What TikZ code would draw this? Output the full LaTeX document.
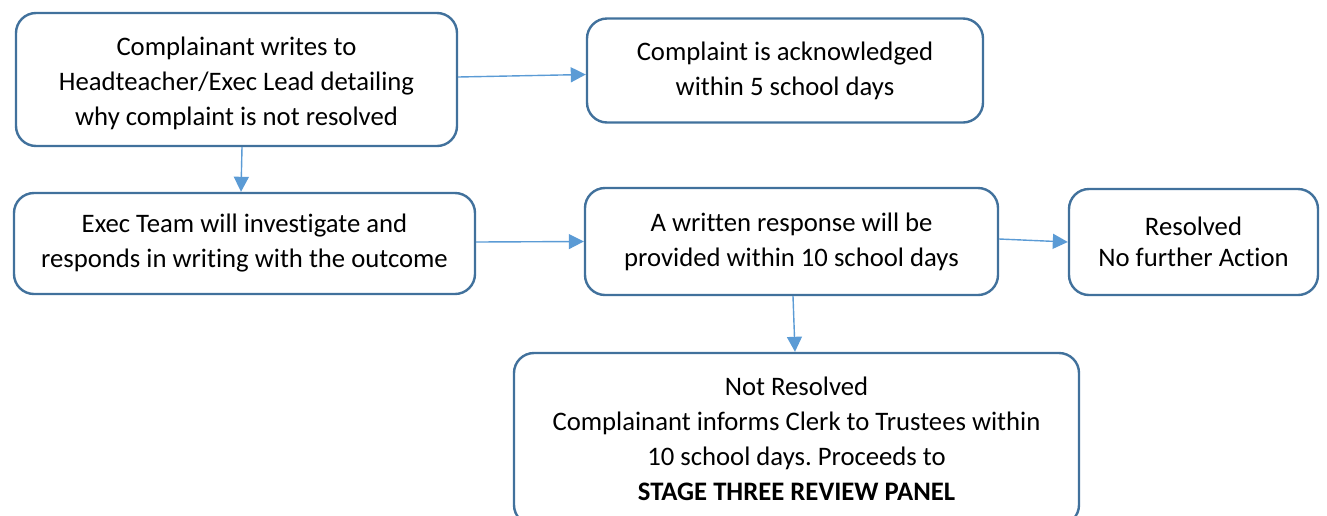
\documentclass[tikz,border=0pt]{standalone}
\usepackage{fontspec}
\setmainfont{Carlito}[Ligatures=NoCommon]
\usetikzlibrary{arrows.meta}
\frenchspacing
\definecolor{boxline}{HTML}{41719C}
\definecolor{arrowc}{HTML}{5B9BD5}
\tikzset{
  flowtext/.style={align=center, font=\fontsize{26.7}{35}\selectfont, inner sep=0pt},
  flowbox/.style={flowtext, draw=boxline, line width=2.4pt, rounded corners=20pt},
  conn/.style={draw=arrowc, line width=1.4pt, -{Triangle[length=15pt,width=15pt]}}
}
\begin{document}
\begin{tikzpicture}[x=1pt,y=-1pt]
\useasboundingbox (0,0) rectangle (1327,515);
\clip (0,0) rectangle (1327,515);
\node[flowbox, minimum width=441pt, minimum height=133pt] (b1) at (236.5,79.5) {};
\node[flowtext] (b1text) at (236.5,83.5)
  {Complainant writes to\\Headteacher/Exec Lead detailing\\why complaint is not resolved};
\node[flowbox, minimum width=396pt, minimum height=104pt] (b2) at (785,70.5)
  {Complaint is acknowledged\\within 5 school days};
\node[flowbox, minimum width=461pt, minimum height=101pt] (b3) at (244.5,243.5)
  {Exec Team will investigate and\\responds in writing with the outcome};
\node[flowbox, minimum width=413pt, minimum height=107pt] (b4) at (791.5,241.5)
  {A written response will be\\provided within 10 school days};
\node[flowbox, minimum width=249pt, minimum height=106pt, font=\fontsize{26.7}{31}\selectfont] (b5) at (1193.5,242)
  {Resolved\\No further Action};
\node[flowbox, minimum width=565pt, minimum height=172pt] (b6) at (796.5,439)
  {Not Resolved\\Complainant informs Clerk to Trustees within\\10 school days. Proceeds to\\\textbf{STAGE THREE REVIEW PANEL}};
\draw[conn] ([yshift=2.5pt]b1.east) -- ([yshift=-4pt]b2.west);
\draw[conn] ([xshift=5.5pt]b1.south) -- ([xshift=-3.5pt]b3.north);
\draw[conn] ([yshift=1.5pt]b3.east) -- (b4.west);
\draw[conn] ([yshift=2.5pt]b4.east) -- (b5.west);
\draw[conn] ([xshift=1.5pt]b4.south) -- ([xshift=-1.5pt]b6.north);
\end{tikzpicture}
\end{document}
